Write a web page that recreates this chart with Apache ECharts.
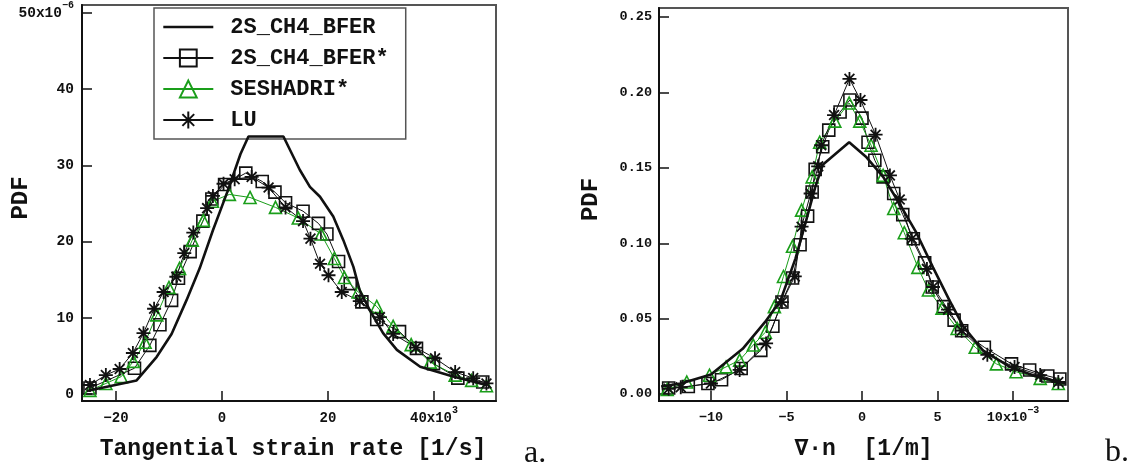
<!DOCTYPE html>
<html><head><meta charset="utf-8">
<script src="https://cdn.jsdelivr.net/npm/echarts@6/dist/echarts.min.js"></script>
<style>html,body{margin:0;padding:0;background:#fff}#c{width:1137px;height:473px}</style>
</head><body><div id="c"></div><script>
// ---------------- data ----------------
const seriesNames = ['2S_CH4_BFER', '2S_CH4_BFER*', 'SESHADRI*', 'LU'];

// panel a: x in 1e3 [1/s], y in 1e-6
const aBfer = [[-25.5,0.4],[-16.1,1.8],[-12.3,4.9],[-9.5,7.9],[-6.7,12.3],[-4.2,16.5],[-1.7,21.5],[1.0,26.5],[3.5,31.5],[5.0,33.8],[11.6,33.8],[14.7,29.4],[16.6,27.2],[18.5,25.9],[21.0,23.3],[22.9,20.2],[24.8,16.7],[26.0,13.6],[27.9,11.0],[30.4,8.0],[33.0,5.8],[37.4,3.6],[43.6,2.3],[49.9,1.2]];
const aBferStar = [[-24.9,0.8],[-16.5,3.4],[-13.6,6.4],[-11.7,9.1],[-9.5,12.3],[-8.2,15.2],[-6.0,18.7],[-3.6,22.7],[-1.9,25.6],[0.5,27.5],[4.5,29.0],[7.6,27.9],[10.0,26.5],[12.0,25.1],[15.3,24.0],[18.2,22.4],[19.8,21.0],[22.0,17.4],[24.2,14.5],[26.4,12.1],[29.2,9.8],[33.5,8.2],[36.7,6.0],[39.9,4.0],[44.5,2.1],[49.2,1.6]];
const aSeshadri = [[-24.9,0.5],[-21.9,1.4],[-19.0,2.3],[-16.7,4.3],[-14.5,6.8],[-12.3,10.4],[-10.0,14.0],[-8.0,16.5],[-5.6,20.2],[-3.5,22.8],[-1.8,25.3],[1.4,26.2],[5.3,25.8],[10.1,24.5],[14.4,23.1],[18.7,21.0],[21.2,17.8],[23.1,15.3],[25.7,13.4],[29.2,11.5],[32.3,8.9],[35.7,6.5],[39.3,4.2],[44.0,2.5],[47.1,1.8],[49.9,1.1]];
const aLu = [[-24.9,1.2],[-21.9,2.5],[-19.3,3.3],[-16.8,5.4],[-14.8,8.0],[-12.8,11.2],[-11.0,13.4],[-8.6,15.4],[-7.1,18.5],[-5.4,21.2],[-2.8,24.4],[-1.7,26.0],[0.3,27.6],[2.4,28.2],[5.6,28.5],[8.8,27.1],[12.0,24.5],[15.3,22.7],[16.7,20.4],[18.5,17.1],[20.1,15.6],[22.6,13.4],[26.0,12.2],[29.8,10.1],[32.3,7.9],[36.6,6.1],[40.2,4.7],[44.0,2.9],[47.4,2.1],[49.9,1.4]];

// panel b: x in 1e-3 [1/m], y PDF
const bBfer = [[-13.3,0.005],[-12.0,0.007],[-10.0,0.013],[-7.9,0.030],[-6.4,0.048],[-5.4,0.062],[-4.4,0.090],[-3.7,0.115],[-3.1,0.137],[-2.6,0.152],[-0.85,0.167],[0.3,0.157],[1.4,0.144],[2.5,0.126],[3.6,0.107],[4.7,0.084],[5.8,0.062],[6.7,0.045],[8.0,0.029],[9.8,0.018],[11.6,0.0115],[13.5,0.007]];
const bBferStar = [[-12.8,0.004],[-11.5,0.005],[-10.2,0.007],[-9.3,0.0095],[-8.0,0.017],[-6.7,0.029],[-5.9,0.045],[-5.3,0.061],[-4.6,0.077],[-4.1,0.099],[-3.6,0.118],[-3.3,0.134],[-3.1,0.149],[-2.6,0.164],[-2.2,0.175],[-1.45,0.187],[-0.8,0.195],[0.0,0.183],[0.4,0.167],[0.85,0.155],[1.4,0.144],[2.1,0.133],[2.7,0.119],[3.4,0.103],[4.15,0.087],[4.65,0.071],[5.4,0.058],[6.1,0.049],[6.6,0.042],[8.1,0.031],[9.9,0.020],[11.1,0.016],[12.3,0.012],[13.1,0.010]];
const bSeshadri = [[-12.9,0.003],[-11.6,0.008],[-10.1,0.0125],[-9.0,0.018],[-8.1,0.0225],[-7.2,0.0325],[-6.4,0.041],[-5.8,0.058],[-5.2,0.078],[-4.6,0.098],[-4.0,0.122],[-3.3,0.144],[-2.8,0.167],[-1.8,0.181],[-0.85,0.193],[-0.15,0.181],[0.6,0.165],[1.4,0.145],[2.1,0.123],[2.8,0.107],[3.7,0.084],[4.4,0.069],[5.3,0.057],[6.3,0.0435],[7.5,0.031],[8.9,0.020],[10.2,0.0148],[11.8,0.0104],[13.0,0.007]];
const bLu = [[-12.8,0.0035],[-12.0,0.0045],[-10.0,0.007],[-8.1,0.016],[-6.35,0.0336],[-5.3,0.061],[-4.45,0.078],[-4.0,0.111],[-3.4,0.133],[-2.9,0.151],[-2.7,0.165],[-1.85,0.185],[-0.83,0.209],[-0.1,0.195],[0.9,0.172],[1.85,0.145],[2.5,0.129],[3.3,0.103],[4.3,0.083],[4.7,0.071],[5.7,0.056],[6.6,0.042],[8.3,0.026],[10.1,0.018],[11.8,0.0126],[13.0,0.008]];

// ticks
const aXTicks = [-20, 0, 20, 40];
const aXTickLabels = ['\u221220', '0', '20', '40x10'];
const aXExp = '3';
const aYTicks = [0, 10, 20, 30, 40, 50];
const aYTickLabels = ['0', '10', '20', '30', '40', '50x10'];
const aYExp = '\u22126';
const bXTicks = [-10, -5, 0, 5, 10];
const bXTickLabels = ['\u221210', '\u22125', '0', '5', '10x10'];
const bXExp = '\u22123';
const bYTicks = [0, 0.05, 0.10, 0.15, 0.20, 0.25];
const bYTickLabels = ['0.00', '0.05', '0.10', '0.15', '0.20', '0.25'];

const aXName = 'Tangential strain rate [1/s]';
const bXName = '\u2207\u00b7n  [1/m]';
const yName = 'PDF';
const panelTags = ['a.', 'b.'];

// ---------------- styling ----------------
const MONO = '"Liberation Mono","DejaVu Sans Mono",monospace';
const INK = '#111';
const GREEN = '#1a9e1a';
const STAR = 'path://M0 5L10 5M5 0L5 10M1.5 1.5L8.5 8.5M8.5 1.5L1.5 8.5';
const SQUARE = 'path://M0 0L10 0L10 10L0 10Z';
const TRI = 'path://M5 0L10 8.66L0 8.66Z';

function fmt(ticks, labels, exp) {
  return function (v) {
    const i = ticks.findIndex(t => Math.abs(t - v) < 1e-9);
    if (i < 0) return '';
    let s = '{m|' + labels[i] + '}';
    if (i === ticks.length - 1 && exp) s += '{s|' + exp + '}';
    return s;
  };
}
function richLab(fs) {
  return {
    m: { fontFamily: MONO, fontWeight: 'bold', fontSize: fs, color: INK, lineHeight: 26 },
    s: { fontFamily: MONO, fontWeight: 'bold', fontSize: 10, color: INK, lineHeight: 10, verticalAlign: 'top' }
  };
}
const nameStyle = { fontFamily: MONO, fontWeight: 'bold', fontSize: 23, color: INK };

function axisCfg(grid, min, max, ticks, labels, exp, name, nameGap, margin, fs, nameExtra) {
  return {
    gridIndex: grid, type: 'value', min: min, max: max,
    axisLine: { show: true, onZero: false, lineStyle: { color: INK, width: 2 } },
    axisTick: { show: true, inside: true, length: 10, customValues: ticks, lineStyle: { color: INK, width: 1.5 } },
    axisLabel: { show: true, customValues: ticks, formatter: fmt(ticks, labels, exp), margin: margin, rich: richLab(fs) },
    splitLine: { show: false },
    name: name, nameLocation: 'middle', nameGap: nameGap, nameMoveOverlap: false,
    nameTextStyle: Object.assign({}, nameStyle, nameExtra || {})
  };
}

function mkSeries(name, data, xi, kind) {
  const base = { name: name, type: 'line', data: data, xAxisIndex: xi, yAxisIndex: xi, z: 3,
    emphasis: { disabled: true }, animation: false, clip: true };
  if (kind === 'solid') {
    return Object.assign(base, { symbol: 'circle', showSymbol: false, symbolSize: 0,
      lineStyle: { color: INK, width: 2.6 }, itemStyle: { color: 'rgba(0,0,0,0)' }, z: 4 });
  }
  const col = kind === 'tri' ? GREEN : INK;
  const sym = kind === 'sq' ? SQUARE : kind === 'tri' ? TRI : STAR;
  return Object.assign(base, { symbol: sym, symbolSize: kind === 'star' ? 14 : 12, showAllSymbol: true,
    lineStyle: { color: col, width: 1 },
    itemStyle: { color: 'rgba(0,0,0,0)', borderColor: col, borderWidth: kind === 'star' ? 1.8 : 1.6 } });
}

const option = {
  backgroundColor: '#fff',
  animation: false,
  grid: [
    { left: 82, top: 5, width: 414, height: 396, show: true, borderColor: '#555', borderWidth: 2, backgroundColor: 'rgba(0,0,0,0)', outerBoundsMode: 'none', containLabel: false },
    { left: 659, top: 8, width: 409, height: 393, show: true, borderColor: '#555', borderWidth: 2, backgroundColor: 'rgba(0,0,0,0)', outerBoundsMode: 'none', containLabel: false }
  ],
  xAxis: [
    axisCfg(0, -26.4, 51.7, aXTicks, aXTickLabels, aXExp, aXName, 37, 4, 14, { padding: [0, 0, 0, 8] }),
    axisCfg(1, -13.44, 13.64, bXTicks, bXTickLabels, bXExp, bXName, 37, 4, 13.5)
  ],
  yAxis: [
    axisCfg(0, -0.9, 51.05, aYTicks, aYTickLabels, aYExp, yName, 49, 8, 14.5, { fontSize: 24, padding: [0, 0, 0, 10] }),
    axisCfg(1, -0.0046, 0.256, bYTicks, bYTickLabels, null, yName, 56, 7, 13.5, { fontSize: 24, padding: [0, 0, 0, 10] })
  ],
  legend: {
    left: 154, top: 8, orient: 'vertical',
    padding: [8, 17, 8, 8], itemWidth: 50, itemHeight: 21, itemGap: 9,
    borderColor: '#555', borderWidth: 1.5, backgroundColor: '#fff',
    selectedMode: false,
    textStyle: { fontFamily: MONO, fontWeight: 'bold', fontSize: 22, color: INK, lineHeight: 21, padding: [0, 0, 0, 12] },
    data: [
      { name: seriesNames[0], lineStyle: { width: 2.6, color: INK } },
      { name: seriesNames[1] },
      { name: seriesNames[2] },
      { name: seriesNames[3] }
    ]
  },
  series: [
    mkSeries(seriesNames[0], aBfer, 0, 'solid'),
    mkSeries(seriesNames[1], aBferStar, 0, 'sq'),
    mkSeries(seriesNames[2], aSeshadri, 0, 'tri'),
    mkSeries(seriesNames[3], aLu, 0, 'star'),
    mkSeries(seriesNames[0], bBfer, 1, 'solid'),
    mkSeries(seriesNames[1], bBferStar, 1, 'sq'),
    mkSeries(seriesNames[2], bSeshadri, 1, 'tri'),
    mkSeries(seriesNames[3], bLu, 1, 'star')
  ],
  graphic: [
    { type: 'text', x: 524, y: 470, style: { text: panelTags[0], font: '32px "Liberation Serif","DejaVu Serif",serif', fill: INK, textVerticalAlign: 'bottom' } },
    { type: 'text', x: 1105, y: 469, style: { text: panelTags[1], font: '32px "Liberation Serif","DejaVu Serif",serif', fill: INK, textVerticalAlign: 'bottom' } }
  ]
};

const chart = echarts.init(document.getElementById('c'), null, { renderer: 'canvas' });
chart.setOption(option);
</script></body></html>
